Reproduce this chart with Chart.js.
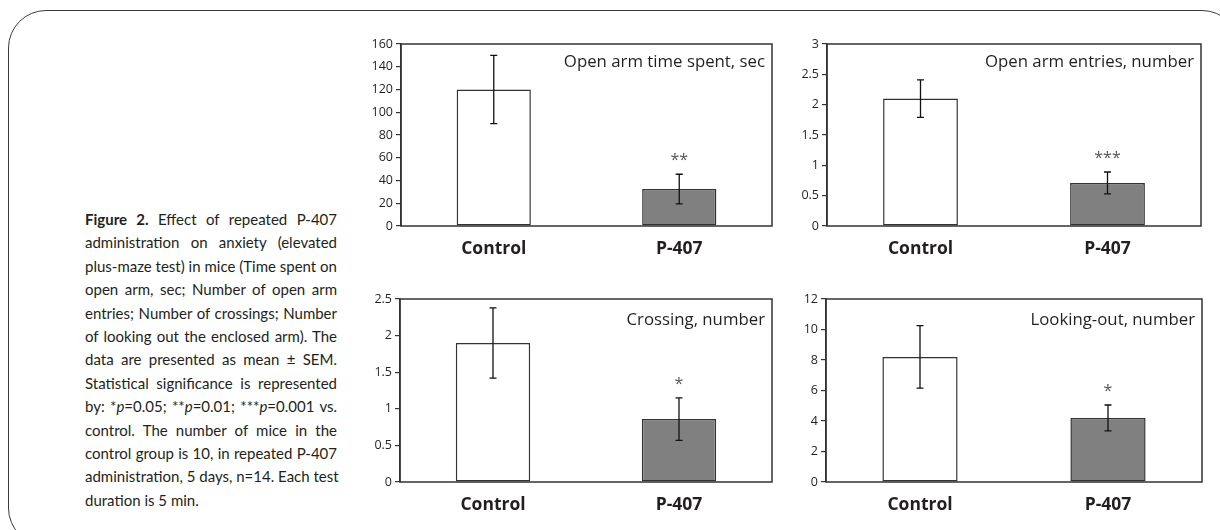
<!DOCTYPE html>
<html>
<head>
<meta charset="utf-8">
<script src="https://cdn.jsdelivr.net/npm/chart.js@4.4.0/dist/chart.umd.min.js"></script>
<style>
  html, body { margin: 0; padding: 0; background: #fff; }
  body { width: 1220px; height: 530px; position: relative; overflow: hidden; }
  #frame {
    position: absolute; left: 8px; top: 10px; width: 1232px; height: 536px;
    border: 1.5px solid #3a3a3a; border-radius: 38px; box-sizing: border-box;
  }
  #caption {
    position: absolute; left: 85px; top: 208px; width: 252px;
    font-family: Lato, "Open Sans", sans-serif; font-size: 15px; line-height: 23.4px; color: #231f20;
  }
  #caption div { white-space: nowrap; text-align: justify; text-align-last: justify; }
  #caption div.last { text-align-last: left; }
  .panel { position: absolute; }
</style>
</head>
<body>
<div id="frame"></div>

<div id="caption">
  <div><b>Figure 2.</b> Effect of repeated P-407</div>
  <div>administration on anxiety (elevated</div>
  <div>plus-maze test) in mice (Time spent on</div>
  <div>open arm, sec; Number of open arm</div>
  <div>entries; Number of crossings; Number</div>
  <div>of looking out the enclosed arm). The</div>
  <div>data are presented as mean ± SEM.</div>
  <div>Statistical significance is represented</div>
  <div>by: *<i>p</i>=0.05; **<i>p</i>=0.01; ***<i>p</i>=0.001 vs.</div>
  <div>control. The number of mice in the</div>
  <div>control group is 10, in repeated P-407</div>
  <div>administration, 5 days, n=14. Each test</div>
  <div class="last">duration is 5 min.</div>
</div>

<div class="panel" id="p1"><canvas id="c1"></canvas></div>
<div class="panel" id="p2"><canvas id="c2"></canvas></div>
<div class="panel" id="p3"><canvas id="c3"></canvas></div>
<div class="panel" id="p4"><canvas id="c4"></canvas></div>

<script>
/* ── Data ── */
const GROUPS = ['Control', 'P-407'];

const TIME_MEAN  = [120, 32.5];
const TIME_SEM   = [30, 13];
const TIME_STARS = ['', '**'];

const ENTRY_MEAN  = [2.1, 0.71];
const ENTRY_SEM   = [0.31, 0.18];
const ENTRY_STARS = ['', '***'];

const CROSS_MEAN  = [1.9, 0.86];
const CROSS_SEM   = [0.48, 0.29];
const CROSS_STARS = ['', '*'];

const LOOK_MEAN  = [8.2, 4.2];
const LOOK_SEM   = [2.05, 0.85];
const LOOK_STARS = ['', '*'];

/* ── Styles ── */
const FONT     = '"Open Sans", Lato, sans-serif';
const INK      = '#231f20';
const EDGE     = '#333333';
const FILLS    = ['#ffffff', '#808080'];
const Y_W      = 46;   // room for y tick labels
const PAD_T    = 12;
const PAD_R    = 4;
const X_H      = 40;   // room for group labels

/* ── Error bars, significance stars, in-plot title and plot frame ── */
const extrasPlugin = {
  id: 'extras',
  afterDatasetsDraw(chart) {
    const { ctx, chartArea: a, scales: { y } } = chart;
    const o = chart.options.plugins.extras;
    const bars = chart.getDatasetMeta(0).data;

    ctx.save();
    ctx.strokeStyle = '#111111';
    ctx.lineWidth = 1.3;
    bars.forEach((bar, i) => {
      const top = y.getPixelForValue(o.mean[i] + o.sem[i]);
      const bot = y.getPixelForValue(o.mean[i] - o.sem[i]);
      ctx.beginPath();
      ctx.moveTo(bar.x, top); ctx.lineTo(bar.x, bot);
      ctx.moveTo(bar.x - 3.5, top); ctx.lineTo(bar.x + 3.5, top);
      ctx.moveTo(bar.x - 3.5, bot); ctx.lineTo(bar.x + 3.5, bot);
      ctx.stroke();

      if (o.stars[i]) {
        ctx.fillStyle = '#555555';
        ctx.font = '16px ' + FONT;
        ctx.textAlign = 'center';
        ctx.textBaseline = 'alphabetic';
        ctx.fillText(o.stars[i], bar.x, top - 9);
      }
    });

    ctx.fillStyle = INK;
    ctx.font = '16.8px ' + FONT;
    ctx.textAlign = 'right';
    ctx.textBaseline = 'middle';
    ctx.fillText(o.title, a.right - 7, a.top + o.titleDy);
    ctx.restore();
  },
  afterDraw(chart) {
    const { ctx, chartArea: a } = chart;
    ctx.save();
    ctx.strokeStyle = EDGE;
    ctx.lineWidth = 1.5;
    ctx.strokeRect(a.left, a.top, a.right - a.left, a.bottom - a.top);
    ctx.restore();
  },
};

/* ── One panel ── */
function drawPanel(id, box, mean, sem, stars, title, yMax, yStep, titleDy) {
  const wrap = document.getElementById('p' + id);
  wrap.style.left   = Math.round(box.left - Y_W) + 'px';
  wrap.style.top    = Math.round(box.top - PAD_T) + 'px';
  wrap.style.width  = Math.round(Y_W + box.w + PAD_R) + 'px';
  wrap.style.height = Math.round(PAD_T + box.h + X_H) + 'px';

  new Chart(document.getElementById('c' + id), {
    type: 'bar',
    plugins: [extrasPlugin],
    data: {
      labels: GROUPS,
      datasets: [{
        data:            mean,
        backgroundColor: FILLS,
        borderColor:     EDGE,
        borderWidth:     1.5,
        borderSkipped:   false,
        barPercentage:   0.4,
        categoryPercentage: 1,
      }],
    },
    options: {
      responsive:          true,
      maintainAspectRatio: false,
      animation:           false,
      events:              [],
      layout: { padding: { top: PAD_T, right: PAD_R, left: 0, bottom: 0 } },
      plugins: {
        legend:  { display: false },
        tooltip: { enabled: false },
        extras:  { mean, sem, stars, title, titleDy },
      },
      scales: {
        x: {
          grid:   { display: false, drawTicks: false },
          border: { display: false },
          ticks:  { color: INK, padding: 13, font: { family: FONT, size: 17.5, weight: 'bold' } },
          afterFit: s => { s.height = X_H; },
        },
        y: {
          min: 0, max: yMax,
          grid:   { drawOnChartArea: false, drawTicks: true, tickLength: 5, color: EDGE, lineWidth: 1.2 },
          border: { display: true, color: EDGE, width: 1.5 },
          ticks:  { stepSize: yStep, color: INK, padding: 3, font: { family: FONT, size: 12.5 },
                    callback: v => String(v) },
          afterFit: s => { s.width = Y_W; },
        },
      },
    },
  });
}

drawPanel(1, { left: 401, top: 44.3,  w: 371, h: 182.3 }, TIME_MEAN,  TIME_SEM,  TIME_STARS,  'Open arm time spent, sec', 160, 20, 18);
drawPanel(2, { left: 827, top: 44.3,  w: 374, h: 182.3 }, ENTRY_MEAN, ENTRY_SEM, ENTRY_STARS, 'Open arm entries, number', 3, 0.5, 18);
drawPanel(3, { left: 400, top: 299.3, w: 372, h: 183 },   CROSS_MEAN, CROSS_SEM, CROSS_STARS, 'Crossing, number', 2.5, 0.5, 21);
drawPanel(4, { left: 826, top: 299.3, w: 376, h: 183 },   LOOK_MEAN,  LOOK_SEM,  LOOK_STARS,  'Looking-out, number', 12, 2, 21);
</script>
</body>
</html>
